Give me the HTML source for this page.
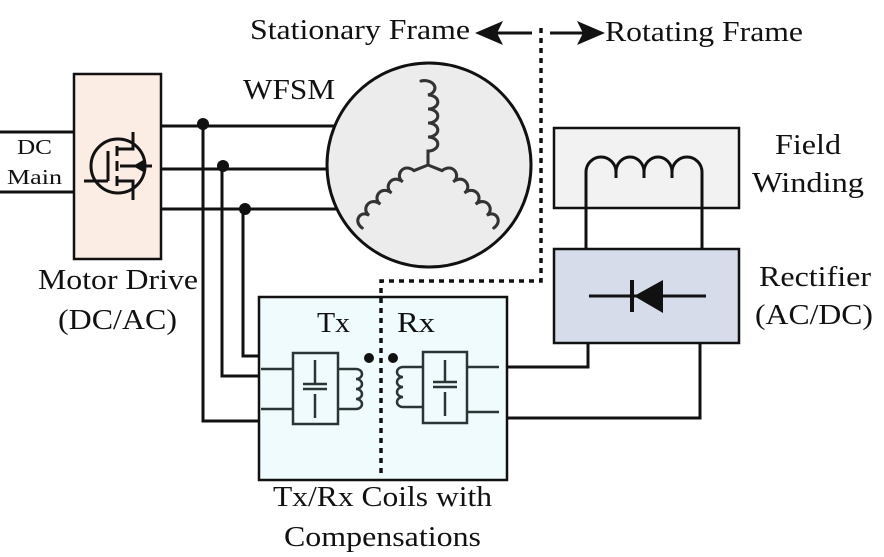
<!DOCTYPE html>
<html><head><meta charset="utf-8"><style>
html,body{margin:0;padding:0;background:#fff;}
svg{display:block;}
text{font-family:"Liberation Serif",serif;fill:#111;}
</style></head><body>
<svg width="884" height="557" viewBox="0 0 884 557" xmlns="http://www.w3.org/2000/svg">
<g stroke="#111" stroke-width="3" fill="none">
<line x1="0" y1="132" x2="74" y2="132"/>
<line x1="0" y1="192" x2="74" y2="192"/>
<rect x="74" y="74" width="87" height="185" fill="#fcede4" stroke-width="2.5"/>
<circle cx="118" cy="166" r="27"/>
<line x1="108" y1="151" x2="108" y2="181"/>
<line x1="84" y1="181" x2="108" y2="181"/>
<line x1="117" y1="146" x2="117" y2="156"/><line x1="117" y1="161" x2="117" y2="171"/><line x1="117" y1="176" x2="117" y2="186"/>
<polyline points="117,149 133,149 133,132"/>
<polyline points="117,181 133,181 133,200"/>
<line x1="120" y1="166" x2="152" y2="166"/>
<line x1="161" y1="126" x2="335" y2="126"/>
<line x1="161" y1="169" x2="330" y2="169"/>
<line x1="161" y1="209" x2="337" y2="209"/>
<polyline points="203,126 203,421 259,421"/>
<polyline points="222,169 222,376 259,376"/>
<polyline points="243,209 243,356 259,356"/>
<circle cx="429" cy="165" r="102" fill="#ececec"/>
<rect x="259" y="297" width="248" height="183" fill="#effbfd" stroke-width="2.5"/>
<rect x="293" y="353" width="45" height="71" stroke="#2a3535" stroke-width="2.5"/>
<rect x="423" y="352" width="44" height="71" stroke="#2a3535" stroke-width="2.5"/>
<g stroke="#2a3535" stroke-width="2.5">
<line x1="261" y1="369" x2="293" y2="369"/><line x1="261" y1="409" x2="293" y2="409"/>
<line x1="467" y1="367" x2="499" y2="367"/><line x1="467" y1="412" x2="499" y2="412"/>
<line x1="315" y1="360" x2="315" y2="384"/><line x1="315" y1="394" x2="315" y2="418"/>
<line x1="303" y1="384" x2="327" y2="384"/><line x1="303" y1="389" x2="327" y2="389"/>
<line x1="445" y1="360" x2="445" y2="382"/><line x1="445" y1="392" x2="445" y2="416"/>
<line x1="433" y1="382" x2="457" y2="382"/><line x1="433" y1="387" x2="457" y2="387"/>
<path d="M338 369 H356 a6 5 0 0 1 0 10 a6 5 0 0 1 0 10 a6 5 0 0 1 0 10 a6 5 0 0 1 0 10 H338"/>
<path d="M423 367 H403 a6 5 0 0 0 0 10 a6 5 0 0 0 0 10 a6 5 0 0 0 0 10 a6 5 0 0 0 0 10 H423"/>
</g>
<polyline points="507,367 588,367 588,343"/>
<polyline points="507,418 700,418 700,343"/>
<rect x="554" y="128" width="185" height="80" fill="#f2f2f2" stroke-width="2.5"/>
<path d="M586 248 V172 a15 15 0 0 1 30 0 V178 M616 172 a14 15 0 0 1 28 0 V178 M644 172 a14 15 0 0 1 28 0 V178 M672 172 a15 15 0 0 1 30 0 V248"/>
<rect x="554" y="249" width="185" height="94" fill="#d6dce9" stroke-width="2.5"/>
<line x1="589" y1="296" x2="706" y2="296"/>
<line x1="632" y1="280" x2="632" y2="312" stroke-width="4"/>
<polygon points="634,296 663,280 663,313" fill="#111" stroke="none"/>
<path d="M541 28 V281 H381 V475" stroke-dasharray="5 5" stroke-width="3.5"/>
<line x1="490" y1="33" x2="532" y2="33"/>
<line x1="550" y1="33" x2="590" y2="33"/>
</g>
<polygon points="475,33 503,21 497,33 503,45" fill="#111"/>
<polygon points="605,33 577,21 583,33 577,45" fill="#111"/>
<polygon points="133,166 145,159 145,173" fill="#111"/>
<g stroke="#333" stroke-width="2.2" fill="none" stroke-linecap="round" transform="translate(428,165) scale(1.4) translate(-428,-165)">
<path d="M428 165 V155 a7 5 0 0 0 0 -10 a7 5 0 0 0 0 -10 a7 5 0 0 0 0 -10 a7 5 0 0 0 0 -10 a7 5 0 0 0 -5 -10"/>
<path d="M428 165 L418 169 c-8 -6 -14 4 -8 8 c-8 -6 -14 4 -8 8 c-8 -6 -14 4 -8 8 c-8 -6 -14 4 -8 8 c-6 -4 -12 4 -5 9"/>
<path d="M428 165 L438 169 c8 -6 14 4 8 8 c8 -6 14 4 8 8 c8 -6 14 4 8 8 c8 -6 14 4 8 8 c6 -4 12 4 5 9"/>
</g>
<g fill="#111">
<circle cx="203" cy="124" r="6"/><circle cx="223" cy="166" r="6"/><circle cx="245" cy="209" r="6"/>
<circle cx="369" cy="358" r="5"/><circle cx="393" cy="358" r="5"/>
</g>
<g font-size="28" lengthAdjust="spacingAndGlyphs">
<text x="250" y="39" textLength="220" lengthAdjust="spacingAndGlyphs">Stationary Frame</text>
<text x="605" y="41" textLength="198" lengthAdjust="spacingAndGlyphs">Rotating Frame</text>
<text x="243" y="99" textLength="92" lengthAdjust="spacingAndGlyphs">WFSM</text>
<text x="17" y="154" font-size="21" textLength="35" lengthAdjust="spacingAndGlyphs">DC</text>
<text x="7" y="184" font-size="21" textLength="55" lengthAdjust="spacingAndGlyphs">Main</text>
<text x="38" y="289" textLength="160" lengthAdjust="spacingAndGlyphs">Motor Drive</text>
<text x="58" y="329" textLength="119" lengthAdjust="spacingAndGlyphs">(DC/AC)</text>
<text x="317" y="332" textLength="33" lengthAdjust="spacingAndGlyphs">Tx</text>
<text x="397" y="332" textLength="38" lengthAdjust="spacingAndGlyphs">Rx</text>
<text x="775" y="154" textLength="66" lengthAdjust="spacingAndGlyphs">Field</text>
<text x="752" y="192" textLength="112" lengthAdjust="spacingAndGlyphs">Winding</text>
<text x="759" y="286" textLength="112" lengthAdjust="spacingAndGlyphs">Rectifier</text>
<text x="755" y="324" textLength="118" lengthAdjust="spacingAndGlyphs">(AC/DC)</text>
<text x="273" y="506" textLength="219" lengthAdjust="spacingAndGlyphs">Tx/Rx Coils with</text>
<text x="284" y="546" textLength="197" lengthAdjust="spacingAndGlyphs">Compensations</text>
</g>
</svg>
</body></html>
